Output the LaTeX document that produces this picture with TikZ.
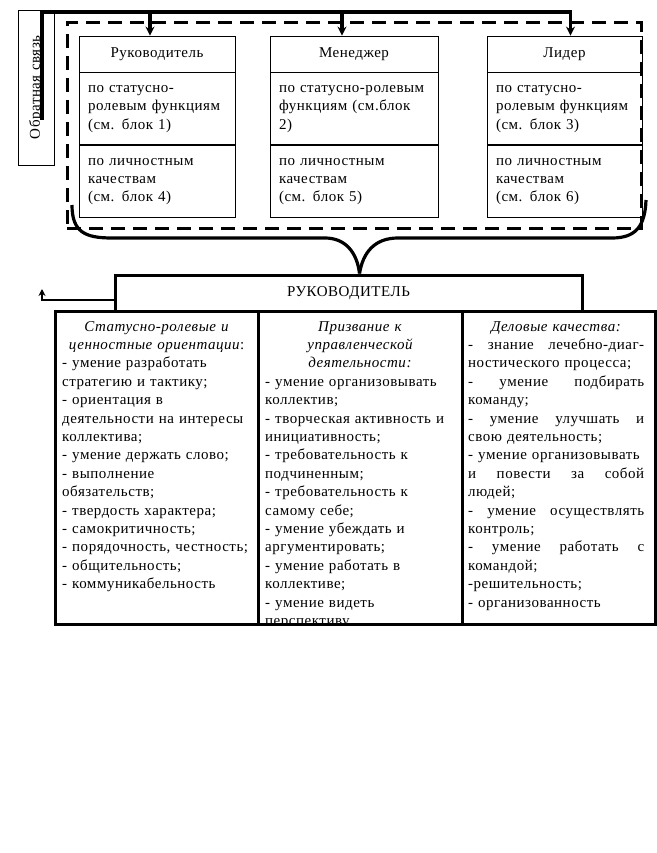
\documentclass[tikz,border=0pt]{standalone}
\usepackage{fontspec}
\setmainfont{Liberation Serif}[LetterSpace=3.5]
\usetikzlibrary{arrows.meta}
\definecolor{schemeink}{HTML}{000000}
\newcommand{\jline}[1]{\leavevmode\hbox to\linewidth{#1}}
\newcommand{\midline}[1]{\makebox[\linewidth]{#1}}

\begin{document}
\begin{tikzpicture}[x=1pt,y=-1pt,line join=miter,
  font=\fontsize{15}{18.4}\selectfont,
  cell/.style={draw=schemeink,line width=.8pt,inner xsep=9pt,inner ysep=0pt,align=left},
  headcell/.style={cell,align=center,minimum height=36pt},
  textcell/.style={cell,minimum height=72pt,anchor=north},
  colframe/.style={draw=schemeink,line width=3pt,minimum height=313pt,inner sep=0pt},
  coltext/.style={anchor=north west,inner sep=0pt,align=left},
  fbline/.style={schemeink,line width=3.2pt},
  fbtip/.style={-{Stealth[length=9pt,width=9pt]}}]
  \useasboundingbox (0,0) rectangle (656,853);

  % leaders: three cards in a dashed frame
  \node[draw=schemeink,line width=3pt,dash pattern=on 14pt off 8pt,
    minimum width=574pt,minimum height=205pt,inner sep=0pt] (group) at (354,125.5) {};
  \node[headcell,text width=138pt] (ruk) at (157,54) {Руководитель};
  \node[textcell,text width=138pt] (rukfun) at (ruk.south)
    {по статусно-\\ролевым функциям\\(см. блок 1)};
  \node[textcell,text width=138pt] (rukpers) at (rukfun.south)
    {по личностным\\качествам\\(см. блок 4)};
  \node[headcell,text width=150pt] (man) at (354,54) {Менеджер};
  \node[textcell,text width=150pt] (manfun) at (man.south)
    {по статусно-ролевым\\функциям (см.блок\\2)};
  \node[textcell,text width=150pt] (manpers) at (manfun.south)
    {по личностным\\качествам\\(см. блок 5)};
  \node[headcell,text width=137pt] (lid) at (564.5,54) {Лидер};
  \node[textcell,text width=137pt] (lidfun) at (lid.south)
    {по статусно-\\ролевым функциям\\(см. блок 3)};
  \node[textcell,text width=137pt] (lidpers) at (lidfun.south)
    {по личностным\\качествам\\(см. блок 6)};

  % feedback
  \node[draw=schemeink,line width=.8pt,rotate=90,minimum width=155pt,
    minimum height=36pt,inner sep=0pt] (fbnote) at (36,87.5) {Обратная связь};
  \coordinate (fbstart) at (42,120);
  \coordinate (fbtop) at (42,12);
  \draw[fbline,fbtip] (fbstart) -- (fbtop) -| ([xshift=6pt]lid.north);
  \draw[fbline,fbtip] ([xshift=-7pt]ruk.north |- fbtop) -- ([xshift=-7pt]ruk.north);
  \draw[fbline,fbtip] ([xshift=-12pt]man.north |- fbtop) -- ([xshift=-12pt]man.north);

  % head of the table
  \node[draw=schemeink,line width=3pt,minimum width=467pt,minimum height=36pt]
    (boss) at (348.5,293) {РУКОВОДИТЕЛЬ};
  \draw[schemeink,line width=3.2pt]
    (72,205) .. controls (72,232) and (85,238) .. (112,238) -- (325,238)
    .. controls (345,238) and (357,252) .. ([xshift=11pt]boss.north);
  \draw[schemeink,line width=3.2pt]
    ([xshift=11pt]boss.north) .. controls (363,252) and (375,238) .. (398,238)
    -- (612,238) .. controls (636,238) and (645,226) .. (646,200);
  \coordinate (fbend) at (42,289);
  \draw[schemeink,line width=2.4pt,-{Stealth[length=7pt,width=7pt]}]
    ([yshift=-7pt]boss.west) -| (fbend);

  % three columns of qualities
  \node[coltext,text width=189pt] (orienttext) at (62,321) {%
    \midline{\textit{Статусно-ролевые и}}\\
    \midline{\textit{ценностные ориентации}:}\\
    - умение разработать\\
    стратегию и тактику;\\
    - ориентация в\\
    деятельности на интересы\\
    коллектива;\\
    - умение держать слово;\\
    - выполнение\\
    обязательств;\\
    - твердость характера;\\
    - самокритичность;\\
    - порядочность, честность;\\
    - общительность;\\
    - коммуникабельность};
  \begin{scope}
    \clip (258,311) rectangle (462,623);
    \node[coltext,text width=190pt] (calltext) at (265,321) {%
      \midline{\textit{Призвание к}}\\
      \midline{\textit{управленческой}}\\
      \midline{\textit{деятельности:}}\\
      - умение организовывать\\
      коллектив;\\
      - творческая активность и\\
      инициативность;\\
      - требовательность к\\
      подчиненным;\\
      - требовательность к\\
      самому себе;\\
      - умение убеждать и\\
      аргументировать;\\
      - умение работать в\\
      коллективе;\\
      - умение видеть\\
      перспективу};
  \end{scope}
  \node[coltext,text width=176pt] (businesstext) at (468,321) {%
    \midline{\textit{Деловые качества:}}\\
    \jline{-\hfill знание\hfill лечебно-диаг-}\\
    ностического процесса;\\
    \jline{-\hfill умение\hfill подбирать}\\
    команду;\\
    \jline{-\hfill умение\hfill улучшать\hfill и}\\
    свою деятельность;\\
    \jline{- умение организовывать}\\
    \jline{и\hfill повести\hfill за\hfill собой}\\
    людей;\\
    \jline{-\hfill умение\hfill осуществлять}\\
    контроль;\\
    \jline{-\hfill умение\hfill работать\hfill с}\\
    командой;\\
    -решительность;\\
    - организованность};

  \node[colframe,minimum width=203pt] (orient) at (156.5,467.5) {};
  \node[colframe,minimum width=204pt] (call) at (360,467.5) {};
  \node[colframe,minimum width=193pt] (business) at (558.5,467.5) {};
\end{tikzpicture}
\end{document}
